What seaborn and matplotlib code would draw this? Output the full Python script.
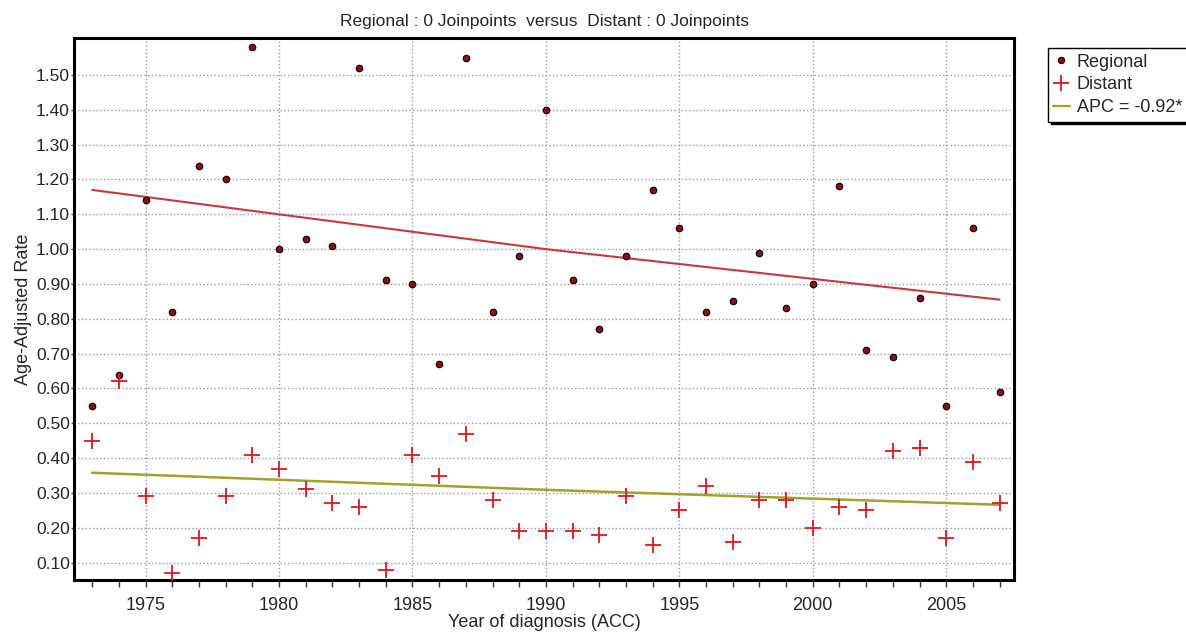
import numpy as np
import pandas as pd
import matplotlib
matplotlib.use("Agg")
import matplotlib.pyplot as plt
from matplotlib.ticker import MultipleLocator, FormatStrFormatter
from matplotlib.lines import Line2D
import seaborn as sns

years = list(range(1973, 2008))
regional = [0.55, 0.64, 1.14, 0.82, 1.24, 1.20, 1.58, 1.00, 1.03, 1.01,
            1.52, 0.91, 0.90, 0.67, 1.55, 0.82, 0.98, 1.40, 0.91, 0.77,
            0.98, 1.17, 1.06, 0.82, 0.85, 0.99, 0.83, 0.90, 1.18, 0.71,
            0.69, 0.86, 0.55, 1.06, 0.59]
distant = [0.45, 0.62, 0.29, 0.07, 0.17, 0.29, 0.41, 0.37, 0.31, 0.27,
           0.26, 0.08, 0.41, 0.35, 0.47, 0.28, 0.19, 0.19, 0.19, 0.18,
           0.29, 0.15, 0.25, 0.32, 0.16, 0.28, 0.28, 0.20, 0.26, 0.25,
           0.42, 0.43, 0.17, 0.39, 0.27]

# fitted (parallel, 0 joinpoints) lines, read at a few years
fit_years = [1973, 1990, 2007]
regional_fit = [1.17, 1.00, 0.855]
distant_fit = [0.358, 0.309, 0.266]

obs = pd.DataFrame({"year": years, "Regional": regional, "Distant": distant})
fit = pd.DataFrame({"year": fit_years, "Regional": regional_fit, "Distant": distant_fit})

sns.set_style("white")
plt.rcParams["font.family"] = ["Liberation Sans", "DejaVu Sans"]

fig = plt.figure(figsize=(11.86, 6.35), dpi=100)
ax = fig.add_axes([0.0624, 0.0866, 0.7926, 0.8534])

sns.lineplot(data=fit, x="year", y="Regional", ax=ax, color="#c8383c", lw=1.5)
sns.lineplot(data=fit, x="year", y="Distant", ax=ax, color="#a3a02c", lw=1.8)
sns.scatterplot(data=obs, x="year", y="Regional", ax=ax, marker="o", s=22,
                color="#8e0c1c", edgecolor="black", linewidth=0.8, zorder=4)
sns.scatterplot(data=obs, x="year", y="Distant", ax=ax, marker="+", s=140,
                color="#e3141e", linewidth=1.3, zorder=4)

ax.set_xlim(1972.32, 2007.54)
ax.set_ylim(0.050, 1.606)
ax.xaxis.set_major_locator(MultipleLocator(5))
ax.xaxis.set_minor_locator(MultipleLocator(1))
ax.set_yticks(np.arange(0.1, 1.51, 0.1))
ax.yaxis.set_major_formatter(FormatStrFormatter("%.2f"))
ax.tick_params(axis="x", which="both", bottom=True, direction="out", length=5,
               width=1, color="#333333", labelsize=13, pad=7)
ax.tick_params(axis="y", which="both", left=True, direction="out", length=2,
               width=1, color="#333333", labelsize=12.5, pad=1)
ax.grid(True, which="major", color="#999999", linestyle=":", linewidth=1)
for sp in ax.spines.values():
    sp.set_visible(True)
    sp.set_color("black")
    sp.set_linewidth(2.2)

ax.set_xlabel("Year of diagnosis (ACC)", fontsize=13, labelpad=0)
ax.set_ylabel("Age-Adjusted Rate", fontsize=13, labelpad=3)
ax.set_title("Regional : 0 Joinpoints  versus  Distant : 0 Joinpoints",
             fontsize=12.5, pad=9)

handles = [
    Line2D([], [], marker="o", ls="none", ms=4.5, color="#8e0c1c", mec="black", mew=0.8),
    Line2D([], [], marker="+", ls="none", ms=11, color="#e3141e", mew=1.3),
    Line2D([], [], color="#a3a02c", lw=1.6),
]
fig.legend(handles, ["Regional", "Distant", "APC = -0.92*"],
           loc="upper left", bbox_to_anchor=(0.8836, 0.924), fontsize=13,
           frameon=True, fancybox=False, edgecolor="black", framealpha=1,
           shadow={"color": "black", "alpha": 1}, handlelength=0.9,
           handletextpad=0.4, borderpad=0.3, labelspacing=0.32,
           borderaxespad=0)

fig.savefig("out.png", dpi=100)
